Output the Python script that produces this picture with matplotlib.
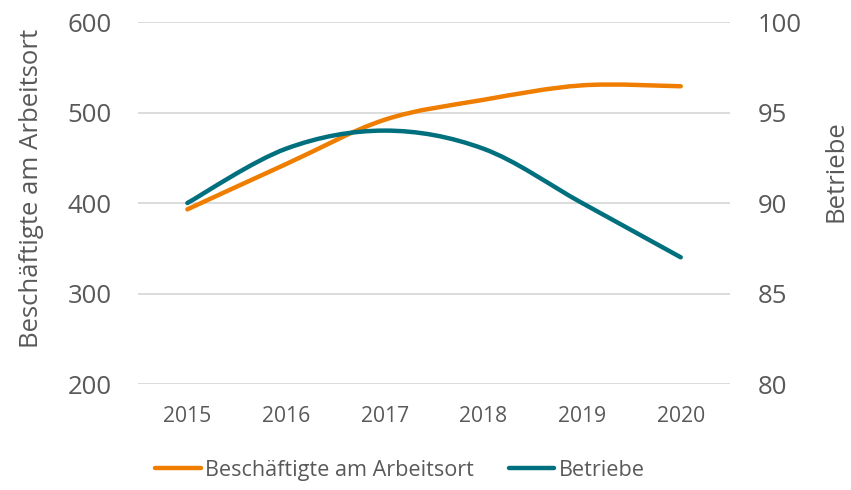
import numpy as np
import matplotlib
matplotlib.use('Agg')
import matplotlib.pyplot as plt
from matplotlib.path import Path
from matplotlib.patches import PathPatch
from matplotlib.lines import Line2D

plt.rcParams['font.family'] = ['Open Sans', 'DejaVu Sans']

years = [2015, 2016, 2017, 2018, 2019, 2020]
beschaeftigte = [393, 443, 492, 514, 530, 529]
betriebe = [90.0, 93.0, 94.0, 93.0, 90.0, 87.0]

ORANGE = '#EF7D00'
TEAL = '#00707F'
TXT = '#595959'
GRID = '#D9D9D9'


def smooth_path(x, y):
    # Bezier-Glättung wie bei Excel-Linien (Catmull-Rom, Faktor 1/6)
    pts = np.column_stack([x, y]).astype(float)
    n = len(pts)
    verts = [pts[0]]
    codes = [Path.MOVETO]
    for i in range(n - 1):
        p0 = pts[i - 1] if i > 0 else pts[i]
        p1 = pts[i]
        p2 = pts[i + 1]
        p3 = pts[i + 2] if i + 2 < n else pts[i + 1]
        c1 = p1 + (p2 - p0) / 6
        c2 = p2 - (p3 - p1) / 6
        verts += [c1, c2, p2]
        codes += [Path.CURVE4] * 3
    return Path(verts, codes)


fig = plt.figure(figsize=(8.51, 4.90), dpi=100)
ax = fig.add_axes([0.1622, 0.2163, 0.6957, 0.7388])
ax2 = ax.twinx()

ax.add_patch(PathPatch(smooth_path(years, beschaeftigte), fill=False, edgecolor=ORANGE,
                       lw=3.2, capstyle='round', joinstyle='round', zorder=3))
ax2.add_patch(PathPatch(smooth_path(years, betriebe), fill=False, edgecolor=TEAL,
                        lw=3.2, capstyle='round', joinstyle='round', zorder=3))

ax.set_xlim(2014.5, 2020.5)
ax.set_ylim(200, 600)
ax2.set_ylim(80, 100)
ax.set_yticks([200, 300, 400, 500, 600])
ax2.set_yticks([80, 85, 90, 95, 100])
ax.set_xticks(years)

ax.yaxis.grid(True, color=GRID, lw=1.3)
ax.set_axisbelow(True)
for a in (ax, ax2):
    for s in a.spines.values():
        s.set_visible(False)
    a.tick_params(length=0, colors=TXT)
ax.tick_params(axis='y', labelsize=18.5, pad=19)
ax2.tick_params(axis='y', labelsize=18.5, pad=20)
ax.tick_params(axis='x', labelsize=15.2, pad=16)

# Achsentitel wie im Original leicht oberhalb der Mitte
fig.text(32 / 851, 1 - 188 / 490, 'Beschäftigte am Arbeitsort', rotation=90,
         ha='center', va='center', fontsize=18.5, color=TXT)
fig.text(836 / 851, 1 - 171 / 490, 'Betriebe', rotation=90,
         ha='center', va='center', fontsize=18.5, color=TXT)

handles = [Line2D([], [], color=ORANGE, lw=3.2, solid_capstyle='round'),
           Line2D([], [], color=TEAL, lw=3.2, solid_capstyle='round')]
leg = fig.legend(handles, ['Beschäftigte am Arbeitsort', 'Betriebe'],
                 loc='center', bbox_to_anchor=(0.47, 0.04), ncol=2, frameon=False,
                 fontsize=15.6, handlelength=2.1, handletextpad=0.2, columnspacing=1.6)
for t in leg.get_texts():
    t.set_color(TXT)

fig.savefig('out.png', dpi=100)
